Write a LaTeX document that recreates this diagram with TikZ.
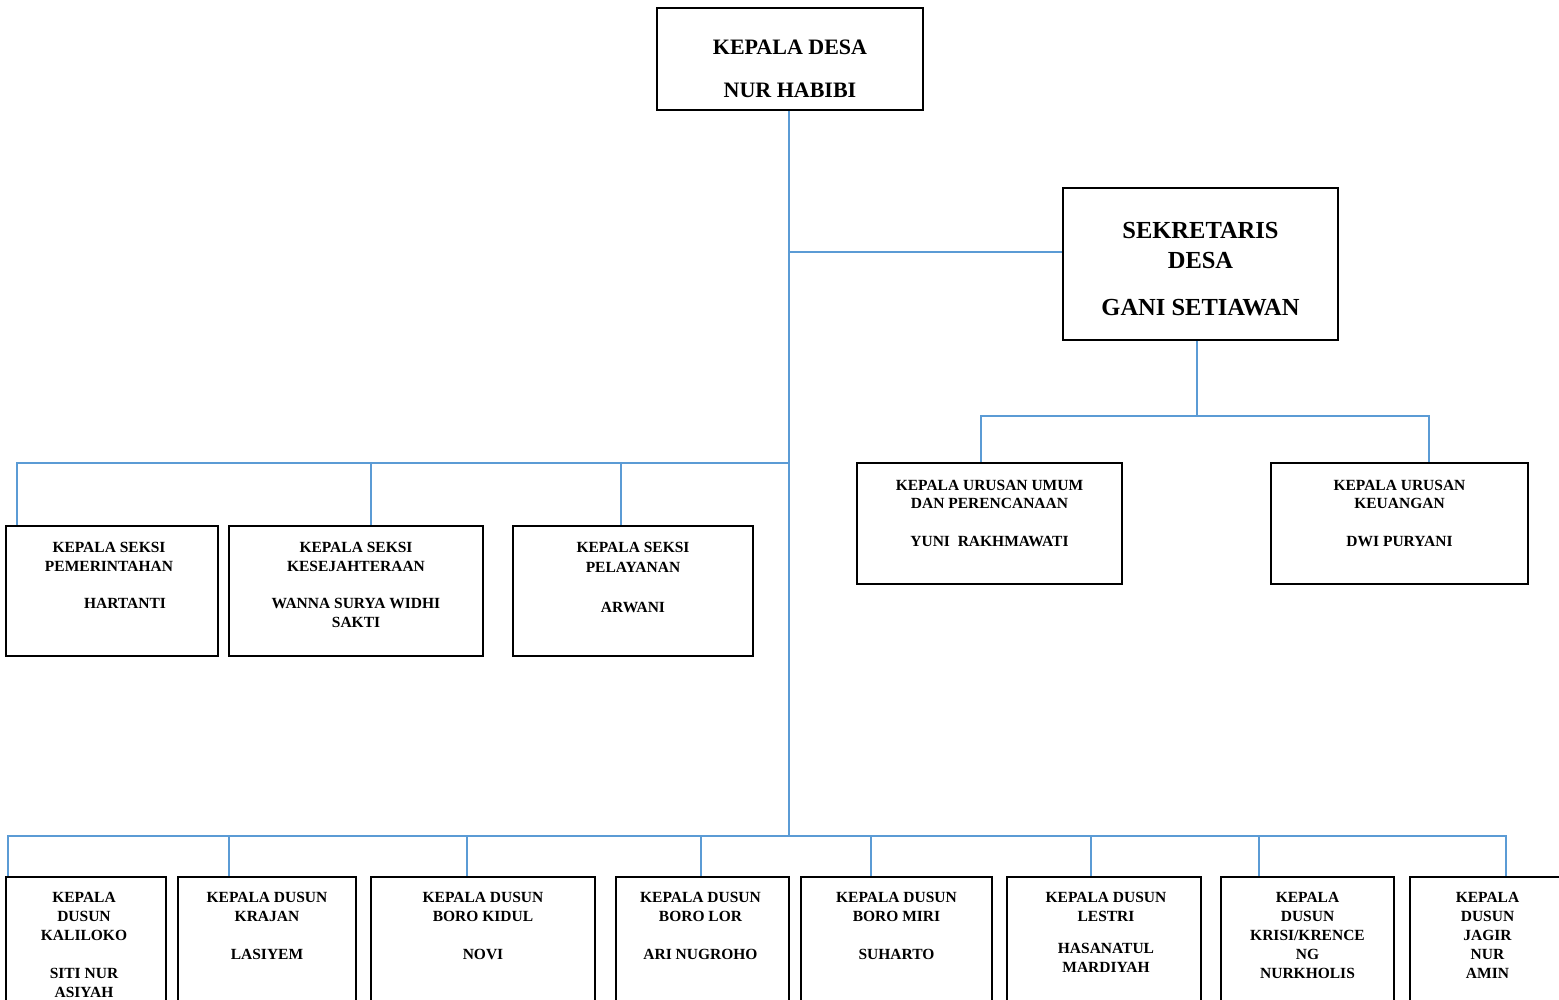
\documentclass[tikz,border=0pt]{standalone}
\usepackage{fontspec}
\setmainfont{Liberation Serif}
\definecolor{linkblue}{HTML}{5B9BD5}
\begin{document}
\begin{tikzpicture}[x=1pt,y=-1pt,
  box/.style={draw=black, line width=1.6pt, inner sep=0pt, fill=none},
  txt/.style={align=center, inner sep=0pt, anchor=north, font=\bfseries\fontsize{15.5}{19}\selectfont},
  conn/.style={draw=linkblue, line width=1.2pt}]
\useasboundingbox (0,0) rectangle (1559,1000);
\fill[white] (0,0) rectangle (1559,1000);
% top boxes
\node[box, minimum width=266pt, minimum height=102pt] (kd) at (790,59) {};
\node[txt, font=\bfseries\fontsize{22}{43}\selectfont] (kdt) at ([yshift=-33pt]kd.north) {KEPALA DESA\\NUR HABIBI};
\node[box, minimum width=275pt, minimum height=152pt] (sek) at (1200.5,264) {};
\node[txt, font=\bfseries\fontsize{24.5}{30}\selectfont] (sekt) at ([yshift=-34.5pt]sek.north) {SEKRETARIS\\DESA\\[17pt]GANI SETIAWAN};
% urusan
\node[box, minimum width=265pt, minimum height=121pt] (uu) at (989.5,523.5) {};
\node[txt, font=\bfseries\fontsize{15.5}{18}\selectfont] (uut) at ([yshift=-17.5pt]uu.north) {KEPALA URUSAN UMUM\\DAN PERENCANAAN\\[20pt]YUNI\ \ RAKHMAWATI};
\node[box, minimum width=257pt, minimum height=121pt] (uk) at (1399.5,523.5) {};
\node[txt, font=\bfseries\fontsize{15.5}{18}\selectfont] (ukt) at ([yshift=-17.5pt]uk.north) {KEPALA URUSAN\\KEUANGAN\\[20pt]DWI PURYANI};
% seksi
\node[box, minimum width=212pt, minimum height=130pt] (s1) at (112,591) {};
\node[txt] (s1t) at ([yshift=-16.5pt, xshift=-3pt]s1.north) {KEPALA SEKSI\\PEMERINTAHAN\\[18pt]\hspace*{32pt}HARTANTI};
\node[box, minimum width=254pt, minimum height=130pt] (s2) at (356,591) {};
\node[txt] (s2t) at ([yshift=-16.5pt]s2.north) {KEPALA SEKSI\\KESEJAHTERAAN\\[18pt]WANNA SURYA WIDHI\\SAKTI};
\node[box, minimum width=240pt, minimum height=130pt] (s3) at (633,591) {};
\node[txt, font=\bfseries\fontsize{15.5}{20}\selectfont] (s3t) at ([yshift=-16.5pt]s3.north) {KEPALA SEKSI\\PELAYANAN\\[20pt]ARWANI};
% dusun
\node[box, minimum width=160pt, minimum height=138pt] (d1) at (86,946) {};
\node[txt] (d1t) at ([yshift=-15.5pt, xshift=-2pt]d1.north) {KEPALA\\DUSUN\\KALILOKO\\[19pt]SITI NUR\\ASIYAH};
\node[box, minimum width=178pt, minimum height=138pt] (d2) at (267,946) {};
\node[txt] (d2t) at ([yshift=-15.5pt]d2.north) {KEPALA DUSUN\\KRAJAN\\[19pt]LASIYEM};
\node[box, minimum width=224pt, minimum height=138pt] (d3) at (483,946) {};
\node[txt] (d3t) at ([yshift=-15.5pt]d3.north) {KEPALA DUSUN\\BORO KIDUL\\[19pt]NOVI};
\node[box, minimum width=173pt, minimum height=138pt] (d4) at (702.5,946) {};
\node[txt] (d4t) at ([yshift=-15.5pt, xshift=-2pt]d4.north) {KEPALA DUSUN\\BORO LOR\\[19pt]ARI NUGROHO};
\node[box, minimum width=191pt, minimum height=138pt] (d5) at (896.5,946) {};
\node[txt] (d5t) at ([yshift=-15.5pt]d5.north) {KEPALA DUSUN\\BORO MIRI\\[19pt]SUHARTO};
\node[box, minimum width=194pt, minimum height=138pt] (d6) at (1104,946) {};
\node[txt] (d6t) at ([yshift=-15.5pt, xshift=2pt]d6.north) {KEPALA DUSUN\\LESTRI\\[13pt]HASANATUL\\MARDIYAH};
\node[box, minimum width=173pt, minimum height=138pt] (d7) at (1307.5,946) {};
\node[txt] (d7t) at ([yshift=-15.5pt]d7.north) {KEPALA\\DUSUN\\KRISI/KRENCE\\NG\\NURKHOLIS};
\node[box, minimum width=155pt, minimum height=138pt] (d8) at (1487.5,946) {};
\node[txt] (d8t) at ([yshift=-15.5pt]d8.north) {KEPALA\\DUSUN\\JAGIR\\NUR\\AMIN};
% junction coordinates
\coordinate (sekj) at (789,252);
\coordinate (sekd) at (1197,416);
\coordinate (ul) at (981,416);
\coordinate (ur) at (1429,416);
\coordinate (sj) at (789,463);
\coordinate (sa) at (17,463);
\coordinate (sb) at (371,463);
\coordinate (sc) at (621,463);
\coordinate (dj) at (789,836);
\coordinate (da) at (8,836);
\coordinate (db) at (229,836);
\coordinate (dc) at (467,836);
\coordinate (dd) at (701,836);
\coordinate (de) at (871,836);
\coordinate (df) at (1091,836);
\coordinate (dg) at (1259,836);
\coordinate (dh) at (1506,836);
% connectors
\draw[conn] (kd.south -| dj) -- (dj);
\draw[conn] (sekj) -- (sekj -| sek.west);
\draw[conn] (sekd |- sek.south) -- (sekd);
\draw[conn] (ul |- uu.north) -- (ul) -- (ur) -- (ur |- uk.north);
\draw[conn] (sa |- s1.north) -- (sa) -- (sj);
\draw[conn] (sb) -- (sb |- s2.north);
\draw[conn] (sc) -- (sc |- s3.north);
\draw[conn] (da |- d1.north) -- (da) -- (dh) -- (dh |- d8.north);
\draw[conn] (db) -- (db |- d2.north);
\draw[conn] (dc) -- (dc |- d3.north);
\draw[conn] (dd) -- (dd |- d4.north);
\draw[conn] (de) -- (de |- d5.north);
\draw[conn] (df) -- (df |- d6.north);
\draw[conn] (dg) -- (dg |- d7.north);
\end{tikzpicture}
\end{document}
